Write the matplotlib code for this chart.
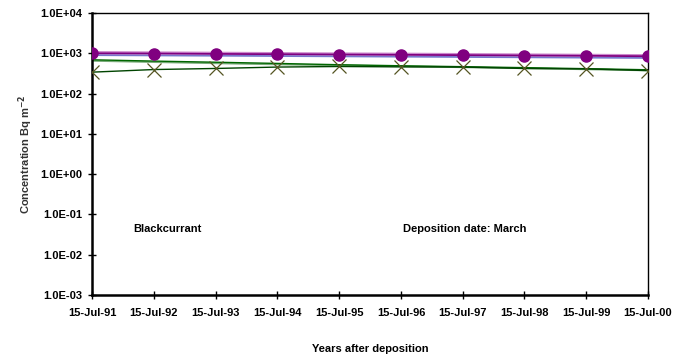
import datetime as dt
import matplotlib
matplotlib.use("Agg")
import matplotlib.pyplot as plt
import matplotlib.dates as mdates
from matplotlib.ticker import FuncFormatter, LogLocator, NullLocator

plt.rcParams['font.family'] = ['Liberation Sans', 'DejaVu Sans']
plt.rcParams['font.weight'] = 'bold'

# Sampling dates: 15 July of each year after the March deposition
years = [1991, 1992, 1993, 1994, 1995, 1996, 1997, 1998, 1999, 2000]
dates = [dt.date(y, 7, 15) for y in years]

# Activity concentration (Bq m^-2) per model run
plum_run = [1080, 1060, 1040, 1020, 1000, 985, 965, 945, 925, 905]
purple_run = [1000, 985, 965, 950, 930, 915, 900, 880, 865, 845]
blue_run = [900, 885, 870, 855, 840, 825, 810, 795, 780, 765]
green_run = [690, 640, 600, 560, 520, 490, 465, 440, 415, 390]
lightgreen_run = [650, 605, 565, 530, 500, 475, 450, 425, 400, 375]
cross_run = [340, 395, 420, 455, 470, 460, 455, 420, 410, 372]

fig = plt.figure(figsize=(6.82, 3.58), dpi=100)
ax = fig.add_axes([92 / 682, 1 - 295 / 358, 556 / 682, 282 / 358])

ax.plot(dates, plum_run, color='#CC88CC', lw=1.3, zorder=3)
ax.plot(dates, blue_run, color='#7777CC', lw=1.3, zorder=3)
ax.plot(dates, lightgreen_run, color='#77AA77', lw=1.3, zorder=2)
ax.plot(dates, green_run, color='#006600', lw=1.0, zorder=2)
ax.plot(dates, cross_run, color='#004400', lw=1.0, marker='x', ms=10,
        mec='#555522', mew=0.9, zorder=4)
ax.plot(dates, purple_run, color='#800080', lw=1.3, marker='o', ms=8,
        mfc='#800080', mec='#800080', zorder=5)

ax.set_yscale('log')
ax.set_ylim(1e-3, 1e4)
ax.set_xlim(dates[0], dates[-1])
ax.yaxis.set_major_locator(LogLocator(base=10, numticks=20))
ax.yaxis.set_minor_locator(NullLocator())
ax.yaxis.set_major_formatter(FuncFormatter(lambda v, p: f"{v:.1E}"))

ax.set_xticks(dates)
ax.xaxis.set_major_formatter(mdates.DateFormatter('%d-%b-%y'))
ax.xaxis.set_minor_locator(NullLocator())

ax.tick_params(axis='both', direction='inout', length=6, width=1.0,
               labelsize=8, colors='black')
ax.tick_params(axis='x', pad=6)
ax.tick_params(axis='y', pad=4)
for lab in ax.get_xticklabels() + ax.get_yticklabels():
    lab.set_fontweight('bold')

for side in ('left', 'bottom'):
    ax.spines[side].set_linewidth(1.8)
for side in ('top', 'right'):
    ax.spines[side].set_linewidth(1.0)

ax.set_ylabel('Concentration Bq m$^{\\mathbf{-2}}$', fontsize=8,
              fontweight='bold', color='#333333', labelpad=4)
ax.set_xlabel('Years after deposition', fontsize=8, fontweight='bold',
              labelpad=19)

ax.text(0.075, 0.234, 'Blackcurrant', transform=ax.transAxes, fontsize=8,
        fontweight='bold', va='center', ha='left')
ax.text(0.56, 0.234, 'Deposition date: March', transform=ax.transAxes,
        fontsize=8, fontweight='bold', va='center', ha='left')

fig.savefig('out.png', dpi=100)
